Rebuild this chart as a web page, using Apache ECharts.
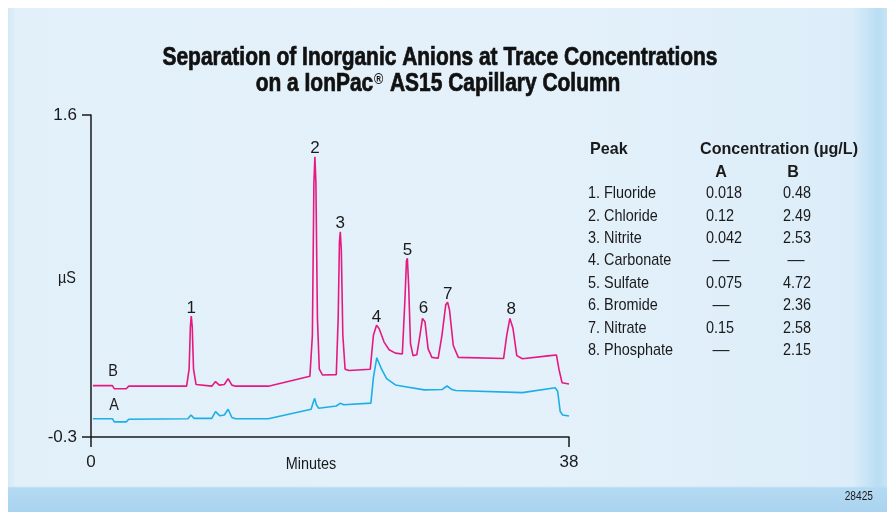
<!DOCTYPE html>
<html>
<head>
<meta charset="utf-8">
<script src="https://cdn.jsdelivr.net/npm/echarts@6/dist/echarts.min.js"></script>
<style>
  html, body { margin: 0; padding: 0; background: #ffffff; }
  #wrap {
    position: relative; width: 887px; height: 512px; overflow: hidden;
    background: #ffffff;
  }
  #panel {
    position: absolute; left: 8px; top: 8px; right: 0; bottom: 0;
    background:
      linear-gradient(to bottom, rgba(255,255,255,0) 0, rgba(255,255,255,0) 478px, #b4daf2 480px, #a9d3f0 504px),
      linear-gradient(to right, #d3e9f7 0, #e2f0fa 8px, #e4f1fa 60%, #dcedf9 96%, #b9ddf3 99%, #c8e4f5 100%),
      #e0effa;
  }
  #main { position: absolute; left: 0; top: 0; width: 887px; height: 512px; }
</style>
</head>
<body>
<div id="wrap">
  <div id="panel"></div>
  <div id="main"></div>
</div>
<script>
// trace B (magenta), [minutes, µS]
const traceB = [
  [0.15, 0.003], [1.7, 0.003], [1.85, -0.015], [2.8, -0.015], [3.0, 0.0],
  [7.6, 0.0], [7.8, 0.1], [7.9, 0.35], [7.97, 0.414], [8.05, 0.35], [8.15, 0.1], [8.35, 0.01],
  [9.6, 0.0], [9.9, 0.027], [10.2, 0.006], [10.6, 0.01], [10.9, 0.044], [11.2, 0.006], [11.5, 0.0],
  [14.1, 0.0], [17.4, 0.058], [17.6, 0.3], [17.72, 1.2], [17.8, 1.354], [17.88, 1.2], [18.0, 0.4],
  [18.15, 0.1], [18.4, 0.066], [19.5, 0.068], [19.65, 0.4], [19.75, 0.85], [19.82, 0.911],
  [19.9, 0.8], [20.02, 0.3], [20.2, 0.1], [20.5, 0.092], [22.2, 0.1], [22.45, 0.3],
  [22.7, 0.36], [22.9, 0.34], [23.3, 0.26], [23.7, 0.215], [24.2, 0.195], [24.75, 0.19],
  [24.95, 0.5], [25.08, 0.74], [25.15, 0.755], [25.25, 0.6], [25.4, 0.25], [25.6, 0.18],
  [25.9, 0.185], [26.15, 0.3], [26.35, 0.4], [26.44, 0.41], [26.55, 0.38], [26.8, 0.22],
  [27.1, 0.17], [27.6, 0.165], [27.9, 0.3], [28.2, 0.48], [28.35, 0.495], [28.5, 0.45],
  [28.8, 0.24], [29.2, 0.17], [32.8, 0.163], [33.05, 0.3], [33.3, 0.4], [33.4, 0.404],
  [33.55, 0.34], [33.85, 0.18], [34.3, 0.162], [36.5, 0.18], [37.0, 0.184], [37.2, 0.1],
  [37.45, 0.02], [38, 0.013]
];

// trace A (cyan)
const traceA = [
  [0.15, -0.192], [1.7, -0.192], [1.85, -0.211], [2.8, -0.211], [3.0, -0.195],
  [7.7, -0.192], [7.95, -0.17], [8.2, -0.19], [9.6, -0.19], [9.9, -0.15], [10.25, -0.175],
  [10.6, -0.17], [10.9, -0.136], [11.2, -0.185], [11.5, -0.192], [14.1, -0.192],
  [17.5, -0.136], [17.65, -0.1], [17.78, -0.072], [17.92, -0.11], [18.1, -0.13],
  [19.5, -0.117], [19.8, -0.101], [20.1, -0.11], [22.25, -0.1], [22.45, 0.05],
  [22.72, 0.168], [22.85, 0.16], [23.1, 0.1], [23.5, 0.045], [24.2, 0.007], [25.0, -0.003],
  [26.5, -0.022], [27.9, -0.02], [28.3, 0.001], [28.7, -0.02], [29.0, -0.026],
  [34.3, -0.038], [36.9, -0.009], [37.1, -0.03], [37.3, -0.15], [37.5, -0.17], [38, -0.176]
];

// peak numbers placed over the B trace
const peakTimes = [7.97, 17.8, 19.82, 22.7, 25.15, 26.44, 28.35, 33.4];
const peakTops = [0.414, 1.354, 0.911, 0.36, 0.755, 0.41, 0.495, 0.404];

// table
const peakNames = ["1. Fluoride", "2. Chloride", "3. Nitrite", "4. Carbonate",
  "5. Sulfate", "6. Bromide", "7. Nitrate", "8. Phosphate"];
const concA = ["0.018", "0.12", "0.042", "—", "0.075", "—", "0.15", "—"];
const concB = ["0.48", "2.49", "2.53", "—", "4.72", "2.36", "2.58", "2.15"];

const xTicks = [0, 38];
const yTicks = [-0.3, 1.6];

const titleLines = ["Separation of Inorganic Anions at Trace Concentrations",
  "on a IonPac® AS15 Capillary Column"];

const font = '"Liberation Sans", Arial, sans-serif';
const ink = '#1a1a1a';

// the original uses a condensed face; squeeze Liberation Sans to the same widths
const mctx = document.createElement('canvas').getContext('2d');
function squeeze(text, css, target) {
  mctx.font = css;
  return target / mctx.measureText(text).width;
}
const titleFont = 'bold 25px ' + font;
const headFont = 'bold 17px ' + font;
const bodyFont = '17px ' + font;
const sTitle = squeeze(titleLines[0], titleFont, 555);
const sHead = squeeze('Concentration (µg/L)', headFont, 158);
const sBody = squeeze('8. Phosphate', bodyFont, 85);

function txt(x, y, text, css, sx, align, fill) {
  return {
    type: 'text', x: x, y: y, scaleX: sx, silent: true,
    style: { text: text, font: css, fill: fill || ink, align: align || 'left', verticalAlign: 'middle' }
  };
}

const chart = echarts.init(document.getElementById('main'), null, { renderer: 'canvas' });

const title1 = txt(440, 58.5, titleLines[0], titleFont, sTitle, 'center', '#111');
title1.style.stroke = '#111';
title1.style.lineWidth = 0.7;

const graphics = [
  title1,
  {
    type: 'text', x: 438, y: 84.5, scaleX: sTitle, silent: true,
    style: {
      text: '{t|on a IonPac}{r|®}{t| AS15 Capillary Column}',
      align: 'center', verticalAlign: 'middle',
      rich: {
        t: { font: titleFont, fill: '#111', stroke: '#111', lineWidth: 0.7 },
        r: { font: 'bold 15px ' + font, fill: '#111', verticalAlign: 'top', padding: [0, 1, 8, 1] }
      }
    }
  },
  txt(590, 149, 'Peak', headFont, sHead),
  txt(700, 149, 'Concentration (µg/L)', headFont, sHead),
  txt(721, 172.5, 'A', headFont, sHead, 'center'),
  txt(793, 172.5, 'B', headFont, sHead, 'center'),
  txt(113, 371, 'B', bodyFont, sBody, 'center'),
  txt(114, 405, 'A', bodyFont, sBody, 'center'),
  txt(67, 278, 'µS', bodyFont, sBody, 'center'),
  txt(311, 464, 'Minutes', bodyFont, sBody, 'center'),
  txt(873, 497, '28425', '12px ' + font, sBody, 'right')
];
peakNames.forEach(function (name, i) {
  const y = 193.5 + i * 22.4;
  graphics.push(txt(588, y, name, bodyFont, sBody));
  const a = concA[i], b = concB[i];
  graphics.push(a === '—' ? txt(721, y, a, bodyFont, 1, 'center') : txt(706, y, a, bodyFont, sBody));
  graphics.push(b === '—' ? txt(796, y, b, bodyFont, 1, 'center') : txt(783, y, b, bodyFont, sBody));
});

chart.setOption({
  backgroundColor: 'transparent',
  animation: false,
  grid: { left: 91, top: 115, right: 318, bottom: 75 },
  xAxis: {
    type: 'value', min: xTicks[0], max: xTicks[1], interval: 38,
    axisLine: { onZero: false, lineStyle: { color: ink, width: 1.5 } },
    axisTick: { show: true, length: 10, lineStyle: { color: ink, width: 1.5 } },
    axisLabel: { fontFamily: font, fontSize: 17, color: ink, margin: 17 },
    splitLine: { show: false }
  },
  yAxis: {
    type: 'value', min: yTicks[0], max: yTicks[1], interval: 1.9,
    axisLine: { onZero: false, lineStyle: { color: ink, width: 1.5 } },
    axisTick: { show: true, length: 9, lineStyle: { color: ink, width: 1.5 } },
    axisLabel: { fontFamily: font, fontSize: 17, color: ink, margin: 14,
      formatter: function (v) { return v.toFixed(1); } },
    splitLine: { show: false }
  },
  graphic: graphics,
  series: [
    {
      name: 'A', type: 'line', data: traceA, showSymbol: false,
      lineStyle: { color: '#1eaee6', width: 1.6 }
    },
    {
      name: 'B', type: 'line', data: traceB, showSymbol: false,
      lineStyle: { color: '#e5197f', width: 1.6 }
    },
    {
      name: 'peaks', type: 'scatter', symbolSize: 1,
      itemStyle: { color: 'rgba(0,0,0,0)' },
      data: peakTimes.map(function (t, i) { return [t, peakTops[i]]; }),
      label: {
        show: true, position: 'top', distance: -1, opacity: 1,
        fontFamily: font, fontSize: 17, color: ink,
        formatter: function (p) { return String(p.dataIndex + 1); }
      }
    }
  ]
});
</script>
</body>
</html>
